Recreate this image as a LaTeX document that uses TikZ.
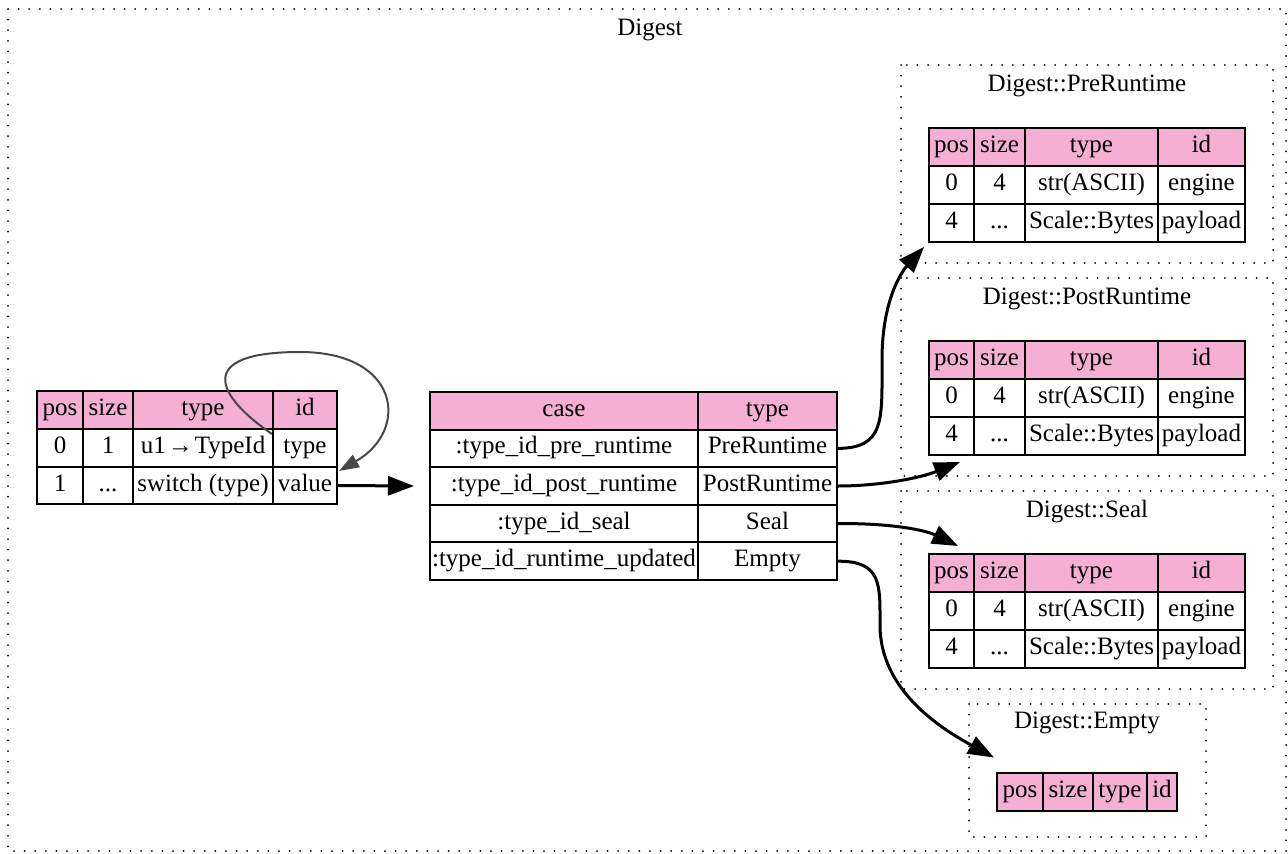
\documentclass[tikz,border=0pt]{standalone}
\usepackage{fontspec}
\setmainfont{Liberation Serif}
\usetikzlibrary{arrows.meta,positioning}
\definecolor{headpink}{RGB}{245,175,213}
\newcommand{\moredots}{...}

\begin{document}
\begin{tikzpicture}[x=1pt, y=-1pt, font=\fontsize{25}{30}\selectfont,
    vcell/.style={draw, line width=2pt, inner sep=0pt, text height=17pt, text depth=6pt},
    hcell/.style={vcell, fill=headpink},
    clusterbox/.style={draw, line width=2pt, dash pattern=on 0pt off 10.6pt, line cap=round},
    lbl/.style={text height=17pt, text depth=6pt},
    link/.style={line width=3pt, -{Triangle[length=26pt,width=19pt]}},
    selfref/.style={line width=2pt, black!72, -{Triangle[length=20pt,width=14pt]}}]
  \useasboundingbox (0,0) rectangle (1288,854);

  % Digest
  \draw[clusterbox] (8,9) rectangle (1286,851);
  \node[lbl] (digest) at (650,30) {Digest};

  % fields of Digest
  \foreach \cx/\w/\h/\a/\b [count=\j] in {60/46pt/pos/0/1, 108/50pt/size/1/\moredots, 203/140pt/type/u1\kern2pt→\kern2pt TypeId/switch (type), 305/64pt/id/type/value} {
    \node[hcell, minimum width=\w, minimum height=38pt] (top-h\j) at (\cx,410) {\h};
    \node[vcell, minimum width=\w, minimum height=38pt] (top-a\j) at (\cx,448) {\a};
    \node[vcell, minimum width=\w, minimum height=37pt] (top-b\j) at (\cx,485.5) {\b};
  }

  % switch on type
  \node[hcell, minimum width=268pt, minimum height=37.6pt] (case-h1) at (564,410.8) {case};
  \node[hcell, minimum width=139pt, minimum height=37.6pt] (case-h2) at (767.5,410.8) {type};
  \foreach \k/\t [count=\i] in {:type\_id\_pre\_runtime/PreRuntime, :type\_id\_post\_runtime/PostRuntime, :type\_id\_seal/Seal, :type\_id\_runtime\_updated/Empty} {
    \node[vcell, minimum width=268pt, minimum height=37.6pt] (case-k\i) at (564,410.8+37.6*\i) {\k};
    \node[vcell, minimum width=139pt, minimum height=37.6pt] (case-t\i) at (767.5,410.8+37.6*\i) {\t};
  }

  % Digest::PreRuntime, PostRuntime, Seal
  \foreach \tb/\oy/\ttl in {pre/0/PreRuntime, post/213/PostRuntime, seal/426/Seal} {
    \draw[clusterbox] (901,65+\oy) rectangle (1273,263+\oy);
    \node[lbl] (\tb-title) at (1087,86+\oy) {Digest::\ttl};
    \foreach \cx/\w/\h/\a/\b [count=\j] in {951.5/45pt/pos/0/4, 999.5/51pt/size/4/\moredots, 1091.5/133pt/type/str(ASCII)/Scale::Bytes, 1201.5/87pt/id/engine/payload} {
      \node[hcell, minimum width=\w, minimum height=38pt] (\tb-h\j) at (\cx,147+\oy) {\h};
      \node[vcell, minimum width=\w, minimum height=38pt] (\tb-a\j) at (\cx,185+\oy) {\a};
      \node[vcell, minimum width=\w, minimum height=38pt] (\tb-b\j) at (\cx,223+\oy) {\b};
    }
  }

  % Digest::Empty
  \draw[clusterbox] (969,704) rectangle (1206,837);
  \node[lbl] (empty-title) at (1087,723) {Digest::Empty};
  \foreach \cx/\w/\h [count=\j] in {1020/46pt/pos, 1068/50pt/size, 1120/54pt/type, 1162/30pt/id}
    \node[hcell, minimum width=\w, minimum height=38pt] (empty-h\j) at (\cx,791.5) {\h};

  % connectors
  \draw[selfref] ([shift={(0,6)}]top-a4.north west) .. controls (215,395) and (195,352) .. (300,352)
    .. controls (400,352) and (410,430) .. ([shift={(1,5)}]top-b4.north east);
  \draw[link] (top-b4.east) -- ([xshift=-15pt]case-k2.west);
  \draw[link] (case-t1.east) .. controls (885,448) and (882,420) .. (882,360)
    .. controls (882,295) and (905,268) .. ([shift={(-4,4)}]pre-b1.south west);
  \draw[link] (case-t2.east) .. controls (880,486) and (920,478) .. ([shift={(8.5,6)}]post-b1.south);
  \draw[link] (case-t3.east) .. controls (890,523) and (925,530) .. ([shift={(6.5,-7)}]seal-h1.north);
  \draw[link] (case-t4.east) .. controls (882,561) and (880,585) .. (880,625)
    .. controls (880,690) and (940,728) .. ([shift={(-2,-14)}]empty-h1.north west);
\end{tikzpicture}
\end{document}
